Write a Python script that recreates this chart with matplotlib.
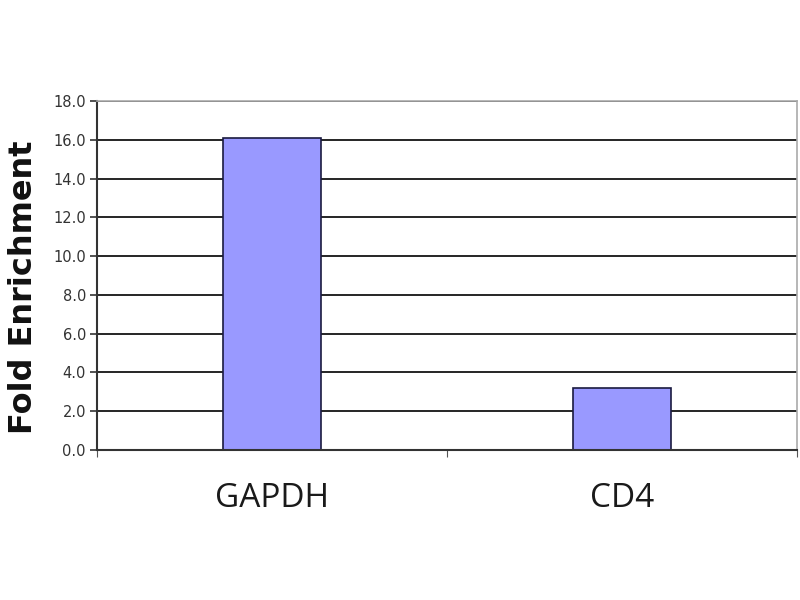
import matplotlib.pyplot as plt
import numpy as np

categories = ["GAPDH", "CD4"]
values = [16.1, 3.2]
yticks = [0, 2, 4, 6, 8, 10, 12, 14, 16, 18]

fig = plt.figure(figsize=(8, 6), dpi=100)
ax = fig.add_axes([0.12125, 0.25, 0.875, 0.5817])

x = np.arange(len(categories))
ax.set_axisbelow(True)
ax.bar(x, values, width=0.28, color="#9999ff", edgecolor="#1a1a40", linewidth=1.2)

ax.set_xlim(-0.5, 1.5)
ax.set_ylim(0, 18)
ax.set_yticks(yticks)
ax.set_yticklabels([f"{v:.1f}" for v in yticks], fontsize=10.5, family="DejaVu Sans", color="#333333")
ax.yaxis.grid(True, color="black", linewidth=1.2)

# category ticks on the boundaries, labels in the middle
ax.set_xticks([-0.5, 0.5, 1.5])
ax.set_xticklabels([])
ax.set_xticks(x, minor=True)
ax.set_xticklabels(categories, minor=True, fontsize=24, family="Open Sans", color="#1a1a1a")
ax.tick_params(axis="x", which="minor", length=0, pad=23)
ax.tick_params(axis="x", which="major", length=5, color="#555555")
ax.tick_params(axis="y", length=5, width=1.2, color="#333333", pad=3)

for s in ["left", "bottom"]:
    ax.spines[s].set_color("#333333")
    ax.spines[s].set_linewidth(1.5)
for s in ["top", "right"]:
    ax.spines[s].set_color("#aaaaaa")
    ax.spines[s].set_linewidth(1.2)

fig.text(0.03, 0.522, "Fold Enrichment", rotation=90, va="center", ha="center",
         fontsize=23, fontweight="bold", family="DejaVu Sans", color="#111111")

fig.savefig("out.png")
